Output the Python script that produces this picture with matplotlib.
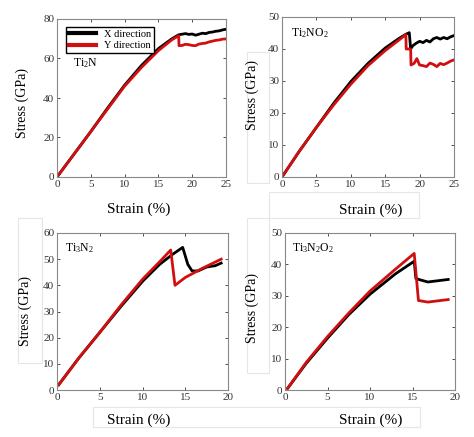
import matplotlib.pyplot as plt
from matplotlib.patches import Rectangle

plt.rcParams['font.family'] = ['Liberation Serif', 'DejaVu Serif']
plt.rcParams['mathtext.fontset'] = 'custom'
plt.rcParams['mathtext.rm'] = 'Liberation Serif'
plt.rcParams['mathtext.default'] = 'rm'

# Ti2N
ti2n_x_strain = [0, 2.5, 5, 7.5, 10, 12.5, 15, 17, 18, 18.5, 19, 19.5, 20, 20.5, 21, 21.5, 22, 22.5, 23, 23.5, 24, 24.5, 25]
ti2n_x_stress = [0, 11.5, 23, 35, 46.5, 56.5, 65, 70, 72, 72.3, 72.6, 72.2, 72.4, 71.8, 72.3, 72.8, 72.6, 73.2, 73.4, 73.8, 74, 74.5, 74.8]
ti2n_y_strain = [0, 2.5, 5, 7.5, 10, 12.5, 15, 17, 18, 18.05, 18.5, 19, 19.5, 20, 20.5, 21, 21.5, 22, 22.5, 23, 23.5, 24, 24.5, 25]
ti2n_y_stress = [0, 11.5, 23, 34.5, 46, 55.5, 64, 69.5, 71.5, 66.5, 66.6, 67.2, 67, 66.6, 66.5, 67.3, 67.6, 67.8, 68.4, 68.8, 69.2, 69.4, 69.8, 69.9]

# Ti2NO2
ti2no2_x_strain = [0, 2.5, 5, 7.5, 10, 12.5, 15, 17, 18, 18.5, 18.7, 19, 19.5, 20, 20.5, 21, 21.5, 22, 22.5, 23, 23.5, 24, 24.5, 25]
ti2no2_x_stress = [0, 8, 15.5, 23, 29.8, 35.5, 40.3, 43.3, 44.6, 45.1, 40, 41, 41.8, 42.4, 42, 42.7, 42.2, 43.2, 43.6, 43.1, 43.6, 43.2, 43.8, 44.2]
ti2no2_y_strain = [0, 2.5, 5, 7.5, 10, 12.5, 15, 17, 18, 18.05, 18.7, 18.75, 19.2, 19.6, 20, 20.5, 21, 21.5, 22, 22.5, 23, 23.5, 24, 24.5, 25]
ti2no2_y_stress = [0, 8, 15.5, 22.5, 29, 34.8, 39.5, 42.8, 44.5, 40, 40, 35, 35.5, 37, 35, 34.8, 34.5, 35.6, 35.2, 34.5, 35.5, 35.1, 35.6, 36.2, 36.6]

# Ti3N2
ti3n2_x_strain = [0.2, 2.5, 5, 7.5, 10, 12, 13.5, 14.7, 15.3, 15.8, 16.5, 17.5, 18.5, 19.2]
ti3n2_x_stress = [2, 12, 22, 32, 41.5, 48, 51.8, 54.5, 48, 45.5, 45.5, 47, 47.5, 48.5]
ti3n2_y_strain = [0.2, 2.5, 5, 7.5, 10, 12, 13.3, 13.8, 15, 17, 19.2]
ti3n2_y_stress = [2, 12, 22, 32.5, 42.3, 49, 53.5, 40, 43, 46.5, 50]

# Ti3N2O2
ti3n2o2_x_strain = [0.3, 2.5, 5, 7.5, 10, 13, 15.2, 15.4, 16, 16.8, 18, 19.2]
ti3n2o2_x_stress = [0.5, 8.5, 16.5, 24, 30.5, 37, 41, 35.5, 35, 34.4, 34.8, 35.2]
ti3n2o2_y_strain = [0.3, 2.5, 5, 7.5, 10, 13, 15.2, 15.7, 16.8, 18, 19.2]
ti3n2o2_y_stress = [0.5, 8.8, 17, 24.5, 31.5, 38.5, 43.5, 28.5, 28, 28.4, 28.8]

W, H = 474, 437


def rect(l, r, t, b):
    return [l / W, 1 - b / H, (r - l) / W, (b - t) / H]


fig = plt.figure(figsize=(W / 100, H / 100), dpi=100)

# faint boxes left over from the pasted panels
for (x0, y0, x1, y1) in [(247, 52, 269, 183), (269, 192, 419, 218), (18, 218, 42, 363),
                         (93, 407, 420, 427), (247, 218, 269, 373)]:
    fig.patches.append(Rectangle((x0 / W, 1 - y1 / H), (x1 - x0) / W, (y1 - y0) / H,
                                 transform=fig.transFigure, fill=False,
                                 edgecolor='#e6e6e6', linewidth=0.8))

panels = [
    (rect(57, 226, 19, 177), ti2n_x_strain, ti2n_x_stress, ti2n_y_strain, ti2n_y_stress,
     'Ti$_2$N', 25, 80, 20, (73, 63), (139, 209), (22, 103)),
    (rect(282, 454, 17, 177), ti2no2_x_strain, ti2no2_x_stress, ti2no2_y_strain, ti2no2_y_stress,
     'Ti$_2$NO$_2$', 25, 50, 10, (291, 33), (371, 210), (252, 95)),
    (rect(57, 228, 233, 390), ti3n2_x_strain, ti3n2_x_stress, ti3n2_y_strain, ti3n2_y_stress,
     'Ti$_3$N$_2$', 20, 60, 10, (65, 248), (139, 420), (25, 311)),
    (rect(285, 455, 233, 390), ti3n2o2_x_strain, ti3n2o2_x_stress, ti3n2o2_y_strain, ti3n2o2_y_stress,
     'Ti$_3$N$_2$O$_2$', 20, 50, 10, (292, 248), (371, 420), (252, 308)),
]

for i, (r, xs, xv, ys, yv, name, xmax, ymax, ystep, npos, xlpos, ylpos) in enumerate(panels):
    ax = fig.add_axes(r)
    l1, = ax.plot(xs, xv, color='black', lw=2)
    l2, = ax.plot(ys, yv, color='#d01010', lw=2)
    ax.set_xlim(0, xmax)
    ax.set_ylim(0, ymax)
    ax.set_xticks(range(0, xmax + 1, 5))
    ax.set_yticks(range(0, ymax + 1, ystep))
    ax.tick_params(direction='in', top=True, right=True, length=2.5, width=0.6,
                   labelsize=8, colors='#333333', pad=2)
    for s in ax.spines.values():
        s.set_color('#888888')
        s.set_linewidth(0.8)
    fig.text(npos[0] / W, 1 - npos[1] / H, name, fontsize=8.5, va='center', ha='left')
    fig.text(xlpos[0] / W, 1 - xlpos[1] / H, 'Strain (%)', fontsize=11, ha='center', va='center')
    fig.text(ylpos[0] / W, 1 - ylpos[1] / H, 'Stress (GPa)', fontsize=10, ha='center',
             va='center', rotation=90)
    if i == 0:
        ax.legend([l1, l2], ['X direction', 'Y direction'], loc='upper left', fontsize=7.5,
                  handlelength=2.6, borderpad=0.3, labelspacing=0.2, fancybox=False,
                  edgecolor='black', framealpha=1, bbox_to_anchor=(0.02, 0.985))
        for line in ax.get_legend().get_lines():
            line.set_linewidth(3)

fig.savefig('out.png', dpi=100)
